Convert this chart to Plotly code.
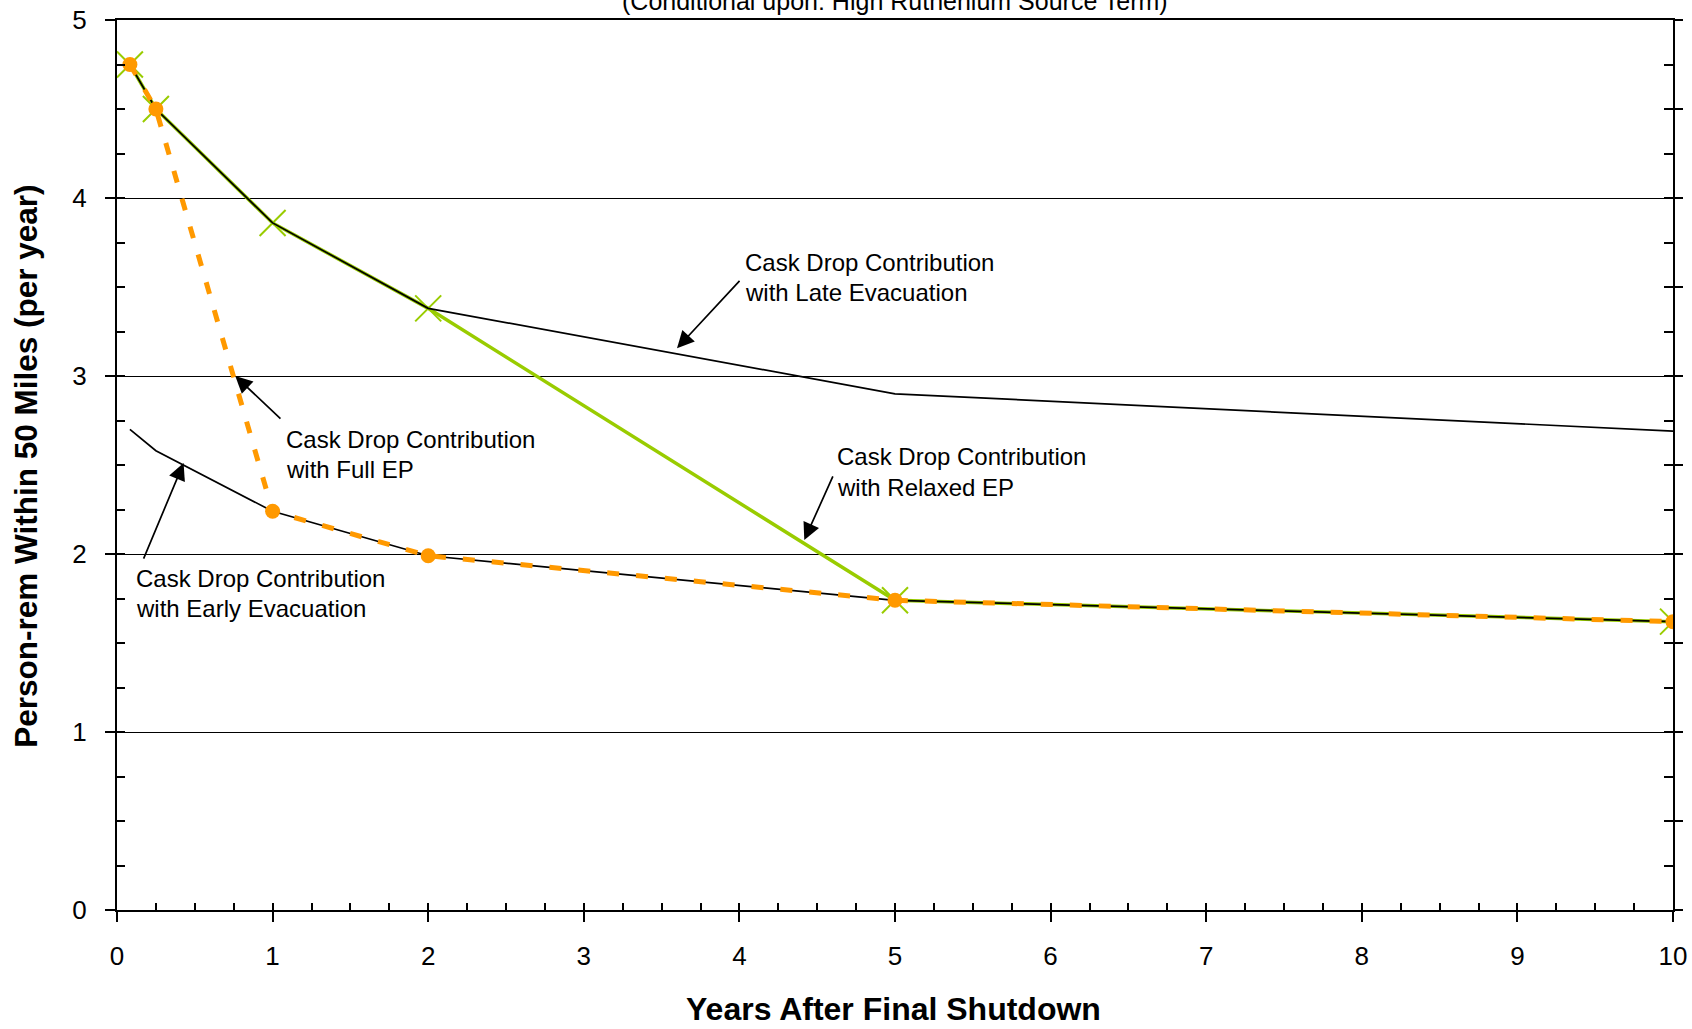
import plotly.graph_objects as go

# Years after final shutdown and person-rem within 50 miles (per year)
years_full = [0.083, 0.25, 1, 2, 5, 10]
full_ep = [4.75, 4.50, 2.24, 1.99, 1.74, 1.62]

years_relaxed = [0.083, 0.25, 1, 2, 5, 10]
relaxed_ep = [4.75, 4.50, 3.86, 3.38, 1.74, 1.62]

years_late = [0.083, 0.25, 1, 2, 5, 10]
late_evac = [4.75, 4.50, 3.86, 3.38, 2.90, 2.69]

years_early = [0.083, 0.25, 1, 2, 5, 10]
early_evac = [2.70, 2.58, 2.24, 1.99, 1.74, 1.62]

x_ticks = list(range(0, 11))
y_ticks = list(range(0, 6))

FONT = "Arial, Liberation Sans, Helvetica, sans-serif"
GREEN = "#99CC00"
ORANGE = "#FF9900"

fig = go.Figure()

fig.add_trace(go.Scatter(
    x=years_relaxed, y=relaxed_ep, mode="lines+markers",
    line=dict(color=GREEN, width=3.5),
    marker=dict(symbol="x-thin", size=26, line=dict(color=GREEN, width=2)),
    showlegend=False, hoverinfo="skip"))

fig.add_trace(go.Scatter(
    x=years_late, y=late_evac, mode="lines",
    line=dict(color="black", width=1.7),
    showlegend=False, hoverinfo="skip"))

fig.add_trace(go.Scatter(
    x=years_early, y=early_evac, mode="lines",
    line=dict(color="black", width=1.7),
    showlegend=False, hoverinfo="skip"))

fig.add_trace(go.Scatter(
    x=years_full, y=full_ep, mode="lines+markers",
    line=dict(color=ORANGE, width=5, dash="12px,17px"),
    marker=dict(symbol="circle", size=15, color=ORANGE),
    showlegend=False, hoverinfo="skip"))

# empty traces so the extra tick-only axes get drawn
for xa, ya in [("x2", "y2"), ("x", "y3"), ("x", "y4")]:
    fig.add_trace(go.Scatter(x=[None], y=[None], xaxis=xa, yaxis=ya,
                             showlegend=False, hoverinfo="skip"))

tick_font = dict(family=FONT, size=26, color="black")

annotations = []

# curve labels, two lines each: (left x, first-line y, first line, second line)
LINE_GAP = 0.169
labels = [
    (4.025, 3.640, "Cask Drop Contribution", "with Late Evacuation"),
    (4.615, 2.545, "Cask Drop Contribution", "with Relaxed EP"),
    (1.072, 2.645, "Cask Drop Contribution", "with Full EP"),
    (0.110, 1.862, "Cask Drop Contribution", "with Early Evacuation"),
]
for lx, ly, line1, line2 in labels:
    for k, txt in enumerate((line1, line2)):
        annotations.append(dict(x=lx, y=ly - k * LINE_GAP, xref="x", yref="y",
                                text=txt, showarrow=False, xanchor="left",
                                yanchor="middle",
                                font=dict(family=FONT, size=24, color="black")))

# leader arrows: (tip x, tip y, tail x, tail y)
arrows = [
    (3.599, 3.156, 4.010, 3.543),
    (4.417, 2.079, 4.605, 2.444),
    (0.760, 3.000, 1.060, 2.753),
    (0.428, 2.511, 0.167, 1.966),
]
for tx, ty, sx, sy in arrows:
    annotations.append(dict(x=tx, y=ty, ax=sx, ay=sy, xref="x", yref="y",
                            axref="x", ayref="y", text="", showarrow=True,
                            arrowhead=2, arrowsize=2.0, arrowwidth=1.7,
                            arrowcolor="black", standoff=0, startstandoff=0))

annotations.append(dict(x=0.5, y=1.0215, xref="paper", yref="paper",
                        text="(Conditional upon: High Ruthenium Source Term)",
                        showarrow=False, xanchor="center", yanchor="middle",
                        font=dict(family=FONT, size=25, color="black")))

annotations.append(dict(x=0.499, y=-0.1115, xref="paper", yref="paper",
                        text="<b>Years After Final Shutdown</b>",
                        showarrow=False, xanchor="center", yanchor="middle",
                        font=dict(family=FONT, size=32, color="black")))

annotations.append(dict(x=(26 - 117) / 1556, y=0.498, xref="paper", yref="paper",
                        text="<b>Person-rem Within 50 Miles (per year)</b>",
                        textangle=-90, showarrow=False,
                        xanchor="center", yanchor="middle",
                        font=dict(family=FONT, size=31.5, color="black")))

common = dict(automargin=False, fixedrange=True, zeroline=False)

fig.update_layout(
    width=1692, height=1029,
    margin=dict(l=117, r=19, t=20, b=119, autoexpand=False),
    paper_bgcolor="white", plot_bgcolor="white",
    font=dict(family=FONT, color="black"),
    annotations=annotations,
    xaxis=dict(range=[0, 10], tickvals=x_ticks, ticks="outside", ticklen=10,
               tickwidth=2, tickcolor="black", showline=True, linewidth=2,
               linecolor="black", mirror=True, showgrid=False,
               tickfont=tick_font, ticklabelstandoff=12, **common),
    xaxis2=dict(range=[0, 10], overlaying="x", anchor="y2", side="bottom",
                tick0=0, dtick=0.25, ticks="inside", ticklen=7, tickwidth=2,
                tickcolor="black", showticklabels=False, showgrid=False,
                showline=False, **common),
    yaxis=dict(range=[0, 5], tickvals=y_ticks, ticks="outside", ticklen=10,
               tickwidth=2, tickcolor="black", showline=True, linewidth=2,
               linecolor="black", mirror=True, showgrid=True, gridcolor="black",
               gridwidth=1, tickfont=tick_font, ticklabelstandoff=13, **common),
    yaxis2=dict(range=[0, 5], overlaying="y", anchor="x2", side="left",
                tick0=0, dtick=0.25, ticks="inside", ticklen=8, tickwidth=2,
                tickcolor="black", showticklabels=False, showgrid=False,
                showline=False, **common),
    yaxis3=dict(range=[0, 5], overlaying="y", anchor="x", side="right",
                tick0=0, dtick=0.5, ticks="outside", ticklen=9, tickwidth=2,
                tickcolor="black", showticklabels=False, showgrid=False,
                showline=False, **common),
    yaxis4=dict(range=[0, 5], overlaying="y", anchor="x", side="right",
                tick0=0, dtick=0.25, ticks="inside", ticklen=9, tickwidth=2,
                tickcolor="black", showticklabels=False, showgrid=False,
                showline=False, **common),
)

fig.write_html("out.html", config={"displayModeBar": False})
